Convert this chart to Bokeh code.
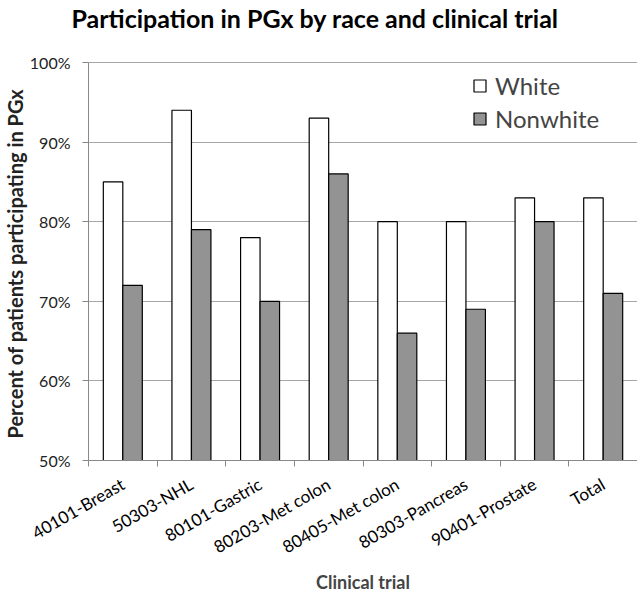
import math
from bokeh.plotting import figure
from bokeh.models import (ColumnDataSource, FixedTicker, PrintfTickFormatter, Range1d,
                          Legend, LegendItem, Title)
from bokeh.transform import dodge
from bokeh.embed import file_html
from bokeh.resources import INLINE

categories = ["40101-Breast", "50303-NHL", "80101-Gastric", "80203-Met colon",
              "80405-Met colon", "80303-Pancreas", "90401-Prostate", "Total"]
white = [85, 94, 78, 93, 80, 80, 83, 83]
nonwhite = [72, 79, 70, 86, 66, 69, 80, 71]
y_ticks = [50, 60, 70, 80, 90, 100]
series_names = ["White", "Nonwhite"]
title_text = "Participation in PGx by race and clinical trial"
x_title = "Clinical trial"
y_title = "Percent of patients participating in PGx"

FONT = "Lato"
n = len(categories)
centers = [i + 0.5 for i in range(n)]
boundaries = list(range(n + 1))
src = ColumnDataSource(dict(x=centers, white=white, nonwhite=nonwhite))

# geometry: 398 px for the 50..100 axis, frame extended 30 px above it for the title
AXIS_PX = 398
EXTRA_PX = 30
FW, FH = 549, AXIS_PX + EXTRA_PX
px_per_unit = AXIS_PX / (y_ticks[-1] - y_ticks[0])
y_end = y_ticks[-1] + EXTRA_PX / px_per_unit

p = figure(frame_width=FW, frame_height=FH, output_backend="svg", toolbar_location=None,
           x_range=Range1d(0, n), y_range=Range1d(y_ticks[0], y_end),
           min_border_left=80, min_border_right=0, min_border_top=32, min_border_bottom=124)

p.title.text = title_text
p.title.align = "left"
p.title.offset = -17
p.title.standoff = 0
p.title.text_font = FONT
p.title.text_font_style = "bold"
p.title.text_font_size = "25px"
p.title.text_color = "black"

bw = 0.284
r1 = p.vbar(x=dodge("x", -bw / 2), top="white", bottom=y_ticks[0], width=bw, source=src,
            fill_color="white", line_color="black", line_width=1.2)
r2 = p.vbar(x=dodge("x", bw / 2), top="nonwhite", bottom=y_ticks[0], width=bw, source=src,
            fill_color="#939393", line_color="black", line_width=1.2)

legend = Legend(items=[LegendItem(label=series_names[0], renderers=[r1]),
                       LegendItem(label=series_names[1], renderers=[r2])],
                location=(384, 327), orientation="vertical",
                label_text_font=FONT, label_text_font_size="24px",
                glyph_width=15, glyph_height=15, label_standoff=8,
                spacing=3, label_height=30, padding=0, margin=0,
                border_line_alpha=0, background_fill_alpha=0)
p.add_layout(legend, "center")

p.outline_line_color = None
p.xgrid.grid_line_color = None
p.ygrid.grid_line_color = "#a6a6a6"
p.ygrid.ticker = FixedTicker(ticks=y_ticks)

xa = p.xaxis[0]
xa.ticker = FixedTicker(ticks=centers, minor_ticks=boundaries)
xa.major_label_overrides = {c: lab for c, lab in zip(centers, categories)}
xa.major_label_orientation = math.pi / 6
xa.major_tick_out = 0
xa.major_tick_in = 0
xa.minor_tick_out = 6
xa.minor_tick_in = 0
xa.minor_tick_line_color = "#888888"
xa.axis_line_color = "#888888"
xa.major_label_text_font = FONT
xa.major_label_text_font_size = "17px"
xa.major_label_text_color = "black"
xa.major_label_standoff = 16
xa.axis_label = x_title
xa.axis_label_text_font = FONT
xa.axis_label_text_font_style = "bold"
xa.axis_label_text_font_size = "18px"
xa.axis_label_standoff = 2

ya = p.yaxis[0]
ya.ticker = FixedTicker(ticks=y_ticks)
ya.bounds = (y_ticks[0], y_ticks[-1])
ya.formatter = PrintfTickFormatter(format="%d%%")
ya.major_tick_out = 6
ya.major_tick_in = 0
ya.minor_tick_out = 0
ya.minor_tick_in = 0
ya.major_tick_line_color = "#888888"
ya.axis_line_color = "#888888"
ya.major_label_text_font = FONT
ya.major_label_text_font_size = "16px"
ya.major_label_text_color = "#222222"
ya.major_label_standoff = 12

# y-axis title, centred on the 50%..100% span (not on the extended frame)
yt = Title(text=y_title, align="left", offset=22, standoff=0,
           text_font=FONT, text_font_style="bold", text_font_size="20px",
           text_color="#222222")
p.add_layout(yt, "left")

open("out.html", "w").write(file_html(p, INLINE))
